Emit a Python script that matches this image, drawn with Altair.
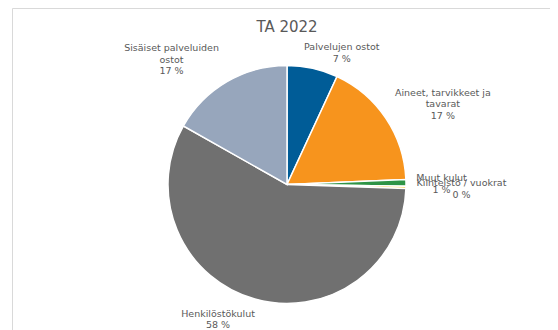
import math
import altair as alt
import pandas as pd

# ---- data ----
categories = [
    "Palvelujen ostot",
    "Aineet, tarvikkeet ja tavarat",
    "Muut kulut",
    "Kiinteistö / vuokrat",
    "Henkilöstökulut",
    "Sisäiset palveluiden ostot",
]
label_names = [
    "Palvelujen ostot",
    "Aineet, tarvikkeet ja\ntavarat",
    "Muut kulut",
    "Kiinteistö / vuokrat",
    "Henkilöstökulut",
    "Sisäiset palveluiden\nostot",
]
values = [6.9, 17.4, 0.9, 0.3, 57.6, 16.8]
title_text = "TA 2022"

# ---- styles ----
colors = ["#005C97", "#F7941D", "#2E9446", "#FFC000", "#707070", "#97A6BC"]
label_offsets = {  # (dx, dy) tweaks of the outside-end labels
    "Palvelujen ostot": (24.6, 5.4),
    "Aineet, tarvikkeet ja tavarat": (39.5, -2.6),
    "Muut kulut": (14.5, 1.5),
    "Kiinteistö / vuokrat": (34.5, 1.2),
    "Henkilöstökulut": (-31.1, 0.2),
    "Sisäiset palveluiden ostot": (-44.9, -3.6),
}
CX, CY = 279, 176.5
R = 119
LH = 11.5
TEXT_COLOR = "#595959"
FONT = "DejaVu Sans"

total = sum(values)
pct_labels = [f"{round(v / total * 100)} %" for v in values]
full_labels = [n + "\n" + p for n, p in zip(label_names, pct_labels)]

df = pd.DataFrame({
    "cat": categories,
    "order": list(range(len(categories))),
    "value": values,
    "label": full_labels,
})

theta_scale = alt.Scale(domain=[0, 1], range=[0, 2 * math.pi])
color_enc = alt.Color("cat:N", scale=alt.Scale(domain=categories, range=colors), legend=None)

base = (
    alt.Chart(df)
    .transform_window(cum="sum(value)", sort=[alt.SortField("order")], frame=[None, 0])
    .transform_joinaggregate(total="sum(value)")
    .transform_calculate(
        start="(datum.cum - datum.value) / datum.total",
        end="datum.cum / datum.total",
        mid="(datum.cum - datum.value / 2) / datum.total",
    )
)

arcs = base.mark_arc(radius=R, stroke="white", strokeWidth=1.5).encode(
    theta=alt.Theta("start:Q", scale=theta_scale),
    theta2="end:Q",
    color=color_enc,
    x=alt.value(CX),
    y=alt.value(CY),
)

text_layers = []
for cat, lab in zip(categories, full_labels):
    dx, dy = label_offsets[cat]
    n_lines = lab.count("\n") + 1
    dy_block = dy - (n_lines - 1) * LH / 2  # centre the block of lines
    t = (
        base.transform_filter(alt.datum.cat == cat)
        .mark_text(
            radius=140, dx=dx, dy=dy_block, lineBreak="\n", font=FONT, fontSize=9.5,
            color=TEXT_COLOR, align="center", baseline="middle", lineHeight=LH,
        )
        .encode(
            theta=alt.Theta("mid:Q", scale=theta_scale, stack=None),
            text="label:N",
            x=alt.value(CX),
            y=alt.value(CY),
        )
    )
    text_layers.append(t)

one = alt.Data(values=[{}])
title = alt.Chart(one).mark_text(
    text=title_text, font=FONT, fontSize=15, color=TEXT_COLOR,
    align="center", baseline="alphabetic",
).encode(x=alt.value(CX), y=alt.value(23.7))

border_top = alt.Chart(one).mark_rule(color="#D9D9D9", strokeWidth=1).encode(
    x=alt.value(4.5), x2=alt.value(560), y=alt.value(0.5)
)
border_left = alt.Chart(one).mark_rule(color="#D9D9D9", strokeWidth=1).encode(
    x=alt.value(4.5), y=alt.value(0.5), y2=alt.value(340)
)

chart = (
    alt.layer(border_top, border_left, arcs, *text_layers, title)
    .properties(width=542, height=322, autosize=alt.AutoSizeParams(type="none"), padding=0)
    .configure_view(stroke=None)
)

chart.save("out.html", embed_options={"renderer": "svg", "actions": False})
